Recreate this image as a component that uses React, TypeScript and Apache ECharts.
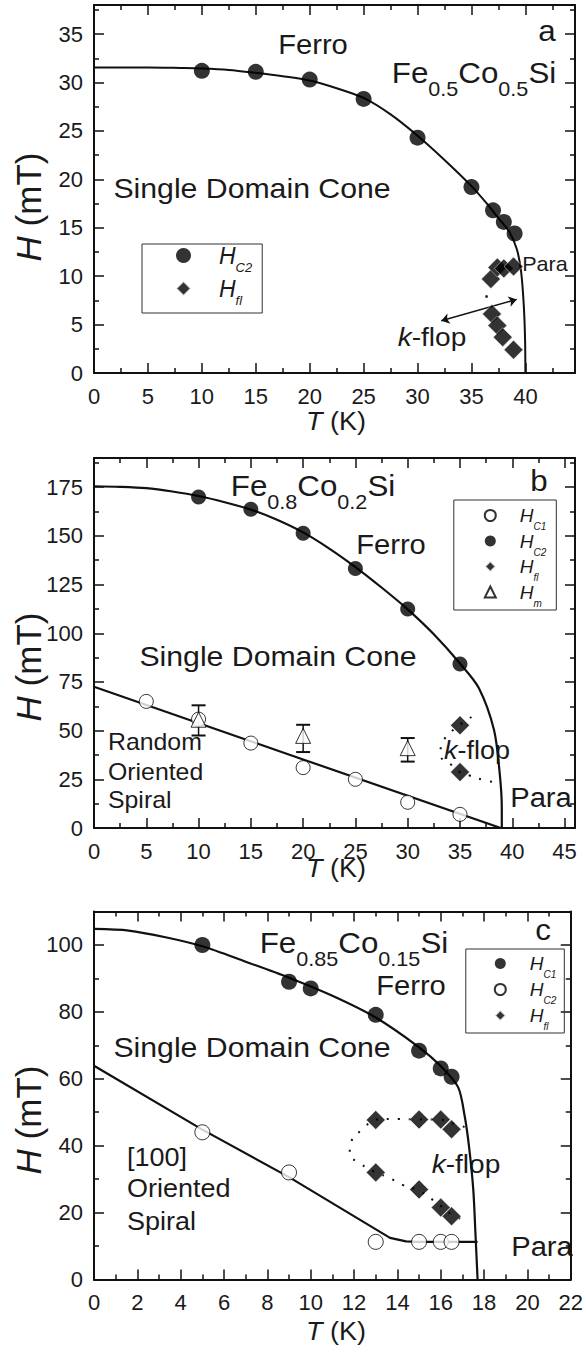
import React, { useEffect, useRef } from "react";
import * as echarts from "echarts";

const F = '"Liberation Sans", Arial, Helvetica, sans-serif';
const INK = "#1a1a1a";
const SX = 1.08;

// ---------- Panel a : Fe0.5Co0.5Si ----------
const aHC2 = [[10, 31.2], [15, 31.1], [20, 30.3], [25, 28.3], [30, 24.3], [35, 19.2], [37, 16.8], [38, 15.6], [39, 14.4]];
const aHfl = [[36.8, 9.7], [37.4, 10.9], [38.0, 10.8], [38.9, 11.0], [36.9, 6.1], [37.4, 4.9], [37.9, 3.7], [38.9, 2.4]];
const aLine = [[0, 31.55], [5, 31.55], [8, 31.5], [10, 31.45], [12.5, 31.3], [15, 31.0], [17.5, 30.65], [20, 30.2], [22.5, 29.4], [25, 28.4], [27.5, 26.7], [30, 24.5], [32.5, 22.0], [35, 19.3], [36.5, 17.4], [37.5, 16.0], [38.5, 14.6], [39.2, 12.8], [39.6, 10.5], [39.85, 7], [39.97, 3.5], [40.0, 0]];
const aArrow = [[32.2, 5.4], [39.2, 7.6]];
const aDot = [[36.4, 7.9]];

// ---------- Panel b : Fe0.8Co0.2Si ----------
const bHC1 = [[5, 65.0], [10, 55.9], [15, 43.6], [20, 31.0], [25, 25.0], [30, 13.2], [35, 7.0]];
const bHC2 = [[10, 170.0], [15, 163.7], [20, 151.3], [25, 133.3], [30, 112.5], [35, 84.2]];
const bHfl = [[35, 52.7], [35, 28.7]];
const bHm = [[10, 55.6], [20, 47.3], [30, 41.0]];
const bHmErr = [[10, 47.5, 63.0], [20, 39.0, 53.0], [30, 34.1, 46.2]];
const bUpper = [[0, 175.5], [2.5, 175.2], [5, 174.5], [7.5, 172.8], [10, 170.5], [12.5, 167.3], [15, 163.5], [17.5, 158.3], [20, 151.8], [22.5, 143.5], [25, 134.0], [27.5, 123.5], [30, 112.3], [32.5, 99.5], [35, 84.5], [36.8, 71.9], [38.25, 50.4], [38.8, 28], [39.0, 10], [39.0, 0]];
const bLower = [[0, 72.5], [20, 35.2], [38.9, 0]];
const bDotted = [[36.1, 57], [35, 53], [33.7, 47], [33.2, 41.8], [33.1, 37.6], [34.4, 31.5], [35, 28.7], [36, 26.8], [37.2, 24.7], [38.5, 23.3]];

// ---------- Panel c : Fe0.85Co0.15Si ----------
const cHC1 = [[5, 100.0], [9, 89.0], [10, 87.0], [13, 79.1], [15, 68.4], [16, 63.1], [16.5, 60.6]];
const cHC2 = [[5, 44.0], [9, 32.0], [13, 11.25], [15, 11.25], [16, 11.25], [16.5, 11.25]];
const cHfl = [[13, 47.7], [15, 47.8], [16, 47.8], [16.5, 44.9], [13, 32.0], [15, 26.9], [16, 21.5], [16.5, 18.9]];
const cUpper = [[0, 104.8], [1.6, 104.3], [3.3, 102.3], [5, 99.6], [7, 95.0], [9, 90.2], [11, 84.8], [13, 78.3], [15, 69.4], [16, 63.8], [16.8, 57.5], [17.1, 49], [17.3, 40], [17.5, 27], [17.6, 14], [17.7, 0]];
const cLower = [[0, 63.9], [5, 44.8], [9, 30.6], [13.66, 12.45], [14.4, 11.4], [15, 11.25], [17.7, 11.25]];
const cDotted = [[17.1, 45.6], [16.5, 46.8], [16, 47.8], [15, 47.8], [14, 48], [13, 47.8], [12.4, 44.9], [11.9, 41.7], [11.8, 37.4], [12.2, 35], [13, 32], [13.6, 30.5], [14.2, 28.4], [15, 26.5], [16, 22], [16.5, 19.5], [16.9, 18.2]];

// axis ranges / tick intervals
const aX = { min: 0, max: 44.6, interval: 5, minor: 2 };
const aY = { min: 0, max: 38, interval: 5, minor: 2 };
const bX = { min: 0, max: 46, interval: 5, minor: 2 };
const bY = { min: 0, max: 190, interval: 25, minor: 2 };
const cX = { min: 0, max: 22, interval: 2, minor: 2 };
const cY = { min: 0, max: 110, interval: 20, minor: 2 };

const LEG: Record<string, string> = {
  aHC2: "{i|H}{s|C2}", aHfl: "{i|H}{s|fl}",
  bHC1: "{i|H}{s|C1}", bHC2: "{i|H}{s|C2}", bHfl: "{i|H}{s|fl}", bHm: "{i|H}{s|m}",
  cHC1: "{i|H}{s|C1}", cHC2: "{i|H}{s|C2}", cHfl: "{i|H}{s|fl}",
};

const fmt = (iv: number) => (v: number) => (Math.abs(v / iv - Math.round(v / iv)) < 1e-6 ? String(v) : "");

function axis(kind: "x" | "y", grid: number, r: any, position: string, labels: boolean) {
  return {
    type: "value", gridIndex: grid, min: r.min, max: r.max, interval: r.interval, position,
    axisLine: { show: true, onZero: false, lineStyle: { color: "#111", width: 2 } },
    axisTick: { show: true, inside: true, length: 10, lineStyle: { color: "#111", width: 1.5 } },
    minorTick: { show: true, splitNumber: r.minor, length: 5, lineStyle: { color: "#111", width: 1.5 } },
    splitLine: { show: false }, minorSplitLine: { show: false },
    axisLabel: {
      show: labels, margin: kind === "x" ? 12 : 11, fontSize: 22, fontFamily: F, color: INK,
      showMinLabel: true, showMaxLabel: true, formatter: fmt(r.interval),
    },
  };
}

const richLeg = (hs: number, ss: number, pad: number, left: number) => ({
  i: { fontSize: hs, fontStyle: "italic", fontFamily: F, color: INK, padding: [0, 0, 0, left] },
  s: { fontSize: ss, fontStyle: "italic", fontFamily: F, color: INK, padding: [pad, 0, 0, 0] },
});

function legend(left: number, top: number, names: string[], size: number, gap: number, padding: number[], hs: number, ss: number, pad: number, tl: number) {
  return {
    left, top, orient: "vertical", data: names, itemWidth: size, itemHeight: size, itemGap: gap,
    padding, borderColor: "#333", borderWidth: 1, selectedMode: false,
    formatter: (n: string) => LEG[n],
    textStyle: { fontFamily: F, color: INK, rich: richLeg(hs, ss, pad, tl) },
  };
}

const richTxt = (size: number) => ({
  k: { fontSize: size, fontStyle: "italic", fontFamily: F, fill: INK },
});

function txt(x: number, y: number, text: string, size: number, align = "center", sx = SX) {
  return {
    type: "text", x, y, scaleX: sx,
    style: { text, fontSize: size, fontFamily: F, fill: INK, align, verticalAlign: "middle", rich: richTxt(size) },
  };
}

function formula(x: number, y: number, a: string, b: string) {
  return {
    type: "text", x, y, scaleX: SX,
    style: {
      text: `{m|Fe}{s|${a}}{m|Co}{s|${b}}{m|Si}`, align: "center", verticalAlign: "middle", fill: INK,
      rich: {
        m: { fontSize: 29, fontFamily: F, fill: INK },
        s: { fontSize: 20, fontFamily: F, fill: INK, padding: [31, 0, 0, 0] },
      },
    },
  };
}

const filled = (size: number) => ({ symbol: "circle", symbolSize: size, itemStyle: { color: "#000" } });
const open = (size: number) => ({ symbol: "circle", symbolSize: size, itemStyle: { color: "#fff", borderColor: "#000", borderWidth: 1 } });
const diamond = (size: number) => ({ symbol: "diamond", symbolSize: size, itemStyle: { color: "#000", borderColor: "#fff", borderWidth: 0.6 } });

function scatter(name: string, g: number, data: number[][], style: any) {
  return { name, type: "scatter", xAxisIndex: 2 * g, yAxisIndex: 2 * g, data, z: 5, ...style };
}
function line(g: number, data: number[][], width: number, smooth: number, dash?: any) {
  return {
    type: "line", xAxisIndex: 2 * g, yAxisIndex: 2 * g, data, showSymbol: false, symbol: "none", smooth, z: 3,
    lineStyle: { color: "#111", width, type: dash || "solid" }, silent: true,
  };
}

function yTitle(y: number) {
  return {
    type: "text", x: 28, y, rotation: Math.PI / 2,
    style: {
      text: "{h|H} (mT)", fontSize: 35, fontFamily: F, fill: INK, align: "center", verticalAlign: "middle",
      rich: { h: { fontSize: 35, fontStyle: "italic", fontFamily: F, fill: INK } },
    },
  };
}
function xTitle(y: number) {
  return {
    type: "text", x: 336, y, scaleX: SX,
    style: {
      text: "{h|T} (K)", fontSize: 25, fontFamily: F, fill: INK, align: "center", verticalAlign: "middle",
      rich: { h: { fontSize: 25, fontStyle: "italic", fontFamily: F, fill: INK } },
    },
  };
}

export default function App() {
  const ref = useRef<HTMLDivElement>(null);
  useEffect(() => {
    if (!ref.current) return;
    const chart = echarts.init(ref.current, null, { renderer: "svg" });
    const option: any = {
      animation: false,
      backgroundColor: "#fff",
      grid: [
        { left: 94, top: 5, width: 481, height: 368 },
        { left: 94, top: 458, width: 481, height: 370 },
        { left: 94, top: 911.5, width: 481, height: 368 },
      ],
      xAxis: [
        axis("x", 0, aX, "bottom", true), axis("x", 0, aX, "top", false),
        axis("x", 1, bX, "bottom", true), axis("x", 1, bX, "top", false),
        axis("x", 2, cX, "bottom", true), axis("x", 2, cX, "top", false),
      ],
      yAxis: [
        axis("y", 0, aY, "left", true), axis("y", 0, aY, "right", false),
        axis("y", 1, bY, "left", true), axis("y", 1, bY, "right", false),
        axis("y", 2, cY, "left", true), axis("y", 2, cY, "right", false),
      ],
      legend: [
        legend(142, 244, ["aHC2", "aHfl"], 15, 3, [0, 10, 6, 33], 23, 13, 24, 23),
        legend(453.8, 500, ["bHC1", "bHC2", "bHfl", "bHm"], 11, 0, [6, 10, 2, 30], 19, 10, 22, 19),
        legend(465.8, 949, ["cHC1", "cHC2", "cHfl"], 11, 0.5, [5, 8, 1.5, 28], 19, 10, 22, 19),
      ],
      series: [
        // panel a
        line(0, aLine, 2, 0.3),
        {
          type: "lines", coordinateSystem: "cartesian2d", xAxisIndex: 0, yAxisIndex: 0, silent: true, z: 4,
          symbol: ["arrow", "arrow"], symbolSize: 8,
          lineStyle: { color: "#111", width: 1.5, curveness: 0, opacity: 1 },
          data: [{ coords: aArrow }],
        },
        { type: "scatter", xAxisIndex: 0, yAxisIndex: 0, data: aDot, symbolSize: 3, itemStyle: { color: "#000" }, silent: true },
        scatter("aHC2", 0, aHC2, filled(16)),
        scatter("aHfl", 0, aHfl, diamond(19)),
        // panel b
        line(1, bUpper, 2.2, 0.3),
        line(1, bLower, 2.2, 0),
        line(1, bDotted, 2, 0.4, [2, 9]),
        {
          type: "custom", xAxisIndex: 2, yAxisIndex: 2, data: bHmErr, z: 4, silent: true,
          renderItem: (params: any, api: any) => {
            const x = api.value(0);
            const lo = api.coord([x, api.value(1)]);
            const hi = api.coord([x, api.value(2)]);
            const w = 7;
            const st = { stroke: "#111", lineWidth: 1.5 };
            return {
              type: "group",
              children: [
                { type: "line", shape: { x1: lo[0], y1: lo[1], x2: hi[0], y2: hi[1] }, style: st },
                { type: "line", shape: { x1: lo[0] - w, y1: lo[1], x2: lo[0] + w, y2: lo[1] }, style: { ...st, lineWidth: 2 } },
                { type: "line", shape: { x1: hi[0] - w, y1: hi[1], x2: hi[0] + w, y2: hi[1] }, style: { ...st, lineWidth: 2 } },
              ],
            };
          },
        },
        scatter("bHC1", 1, bHC1, open(14)),
        scatter("bHC2", 1, bHC2, filled(15)),
        scatter("bHfl", 1, bHfl, diamond(19)),
        scatter("bHm", 1, bHm, { symbol: "triangle", symbolSize: 15, z: 6, itemStyle: { color: "#fff", borderColor: "#000", borderWidth: 1 } }),
        // panel c
        line(2, cUpper, 2.2, 0.3),
        line(2, cLower, 2.2, 0),
        line(2, cDotted, 2, 0.4, [2, 9]),
        scatter("cHC1", 2, cHC1, filled(16)),
        scatter("cHC2", 2, cHC2, open(15)),
        scatter("cHfl", 2, cHfl, diamond(19)),
      ],
      graphic: [
        // panel a
        txt(313, 45, "Ferro", 27),
        formula(474, 73, "0.5", "0.5"),
        txt(547, 31, "a", 29),
        txt(252, 188, "Single Domain Cone", 28),
        txt(545, 264, "Para", 20),
        txt(432, 337, "{k|k}-flop", 26),
        xTitle(421), yTitle(207),
        // panel b
        formula(313, 486, "0.8", "0.2"),
        txt(539, 481, "b", 29),
        txt(391, 545, "Ferro", 27),
        txt(278, 656, "Single Domain Cone", 28),
        txt(108, 742, "Random", 23, "left"),
        txt(108, 772, "Oriented", 23, "left"),
        txt(108, 800, "Spiral", 23, "left"),
        txt(477, 750, "{k|k}-flop", 25),
        txt(541, 798, "Para", 27),
        xTitle(868), yTitle(667),
        // panel c
        formula(354, 943, "0.85", "0.15"),
        txt(543, 930, "c", 29),
        txt(411, 986, "Ferro", 27),
        txt(252, 1047, "Single Domain Cone", 28),
        txt(127, 1157, "[100]", 25, "left"),
        txt(127, 1188, "Oriented", 25, "left"),
        txt(127, 1221, "Spiral", 25, "left"),
        txt(466, 1164, "{k|k}-flop", 26),
        txt(542, 1247, "Para", 27),
        xTitle(1331), yTitle(1120),
      ],
    };
    chart.setOption(option);
    return () => chart.dispose();
  }, []);
  return <div ref={ref} style={{ position: "absolute", left: 0, top: 0, width: 586, height: 1353, background: "#fff" }} />;
}
